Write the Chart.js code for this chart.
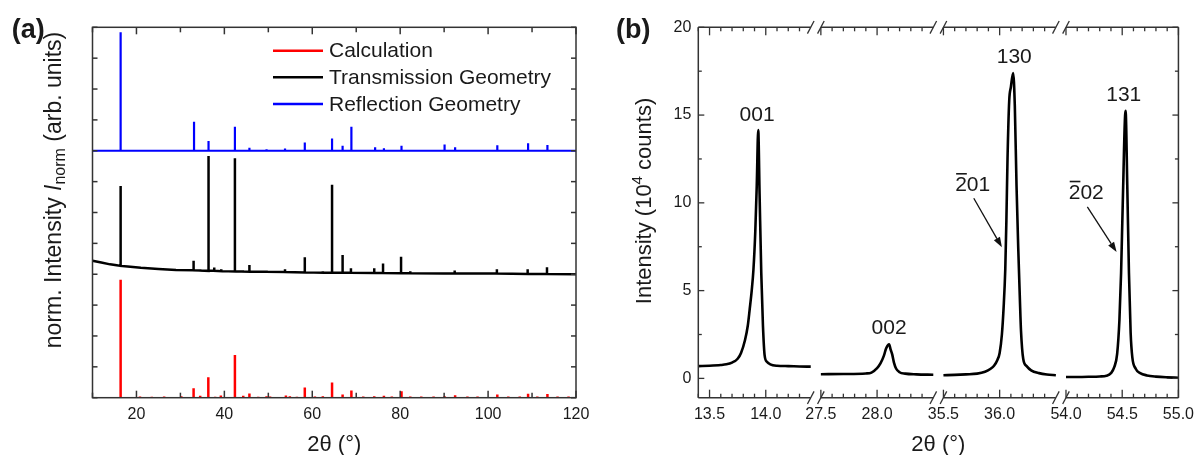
<!DOCTYPE html>
<html>
<head>
<meta charset="utf-8">
<script src="https://cdn.jsdelivr.net/npm/chart.js@4.4.1/dist/chart.umd.min.js"></script>
<style>
  html, body { margin: 0; padding: 0; background: #fff; }
  #wrap { position: relative; width: 1201px; height: 455px; }
  #cA { position: absolute; left: 0; top: 0; }
  #cB { position: absolute; left: 600px; top: 0; }
</style>
</head>
<body>
<div id="wrap">
  <canvas id="cA" width="600" height="455"></canvas>
  <canvas id="cB" width="601" height="455"></canvas>
</div>
<script>
const FONT = '"Liberation Sans", Arial, Helvetica, sans-serif';
const AXIS = '#333333';
const TXT = '#1a1a1a';

// ---------- panel (a): powder patterns ----------
const aXTicks = [10, 20, 30, 40, 50, 60, 70, 80, 90, 100, 110, 120];
const aXLabels = [20, 40, 60, 80, 100, 120];
const aYTicks = [0, 1, 2, 3, 4, 5, 6, 7, 8, 9, 10, 11, 12];

// calculated stick pattern (baseline 0)
const calcPos = [16.4, 20.8, 23.5, 26.3, 30.2, 33.0, 34.5, 36.35, 37.9, 39.2,
                 42.4, 44.3, 45.7, 47.7, 49.6, 50.4, 54.0, 54.9, 56.5, 58.3,
                 60.6, 62.4, 64.5, 66.9, 68.9, 71.6, 74.1, 76.3, 78.1, 80.3,
                 82.3, 84.8, 87.6, 90.1, 92.5, 95.3, 97.6, 102.1, 104.6, 107.2,
                 109.1, 111.2, 113.5, 115.8, 118.3];
const calcInt = [3.82, 0.04, 0.03, 0.04, 0.05, 0.31, 0.06, 0.66, 0.03, 0.07,
                 1.38, 0.06, 0.14, 0.03, 0.05, 0.04, 0.07, 0.05, 0.03, 0.33,
                 0.04, 0.05, 0.49, 0.10, 0.23, 0.04, 0.05, 0.06, 0.04, 0.21,
                 0.04, 0.04, 0.04, 0.05, 0.08, 0.04, 0.04, 0.10, 0.04, 0.04,
                 0.13, 0.04, 0.12, 0.04, 0.04];

// transmission geometry (offset ~4)
const transPos  = [16.4, 33.0, 34.5, 36.4, 37.7, 39.3, 42.4, 44.2, 45.7, 49.6, 53.8, 58.3,
                   62.4, 64.5, 66.9, 68.8, 74.1, 76.1, 80.2, 82.3, 92.4, 102.0, 109.0, 113.4];
const transFoot = [4.27, 4.13, 4.12, 4.11, 4.11, 4.10, 4.09, 4.09, 4.08, 4.08, 4.07, 4.06,
                   4.05, 4.05, 4.05, 4.05, 4.04, 4.04, 4.03, 4.03, 4.02, 4.02, 4.01, 4.01];
const transTop  = [6.86, 4.44, 4.16, 7.83, 4.22, 4.16, 7.76, 4.13, 4.30, 4.12, 4.16, 4.55,
                   4.10, 6.90, 4.62, 4.19, 4.19, 4.35, 4.57, 4.10, 4.12, 4.16, 4.16, 4.23];
const transBgPos = [10, 12, 14, 15.5, 18, 21, 25, 29, 90, 120];
const transBgVal = [4.44, 4.38, 4.32, 4.29, 4.25, 4.21, 4.17, 4.14, 4.02, 4.00];

// reflection geometry (offset 8)
const reflBase = 8.0;
const reflPos = [16.4, 33.1, 36.4, 42.4, 45.7, 49.6, 53.8, 58.3, 64.5, 66.9,
                 68.9, 74.3, 76.3, 80.3, 90.1, 92.5, 102.1, 109.1, 113.5];
const reflTop = [11.84, 8.94, 8.32, 8.78, 8.10, 8.05, 8.07, 8.27, 8.40, 8.16,
                 8.78, 8.11, 8.08, 8.16, 8.20, 8.11, 8.18, 8.24, 8.19];

// ---------- panel (b): single crystal reflections, broken axis ----------
const bSegStart = [13.4, 27.5, 35.5, 54.0];
const bSegEnd   = [14.4, 28.5, 36.5, 55.0];
const bYTicks = [0, 2.5, 5, 7.5, 10, 12.5, 15, 17.5, 20];

const seg1X = [13.40, 13.50, 13.60, 13.65, 13.70, 13.75, 13.78, 13.815, 13.84, 13.856, 13.875, 13.89, 13.907,
               13.92, 13.933, 13.945, 13.96, 13.975, 13.99, 14.01, 14.04, 14.10, 14.20, 14.30, 14.40];
const seg1Y = [0.70, 0.72, 0.76, 0.80, 0.90, 1.12, 1.45, 2.17, 3.00, 3.88, 5.00, 6.16, 8.40,
               11.0, 14.14, 10.5, 6.0, 3.0, 1.31, 0.95, 0.80, 0.72, 0.70, 0.68, 0.67];
const seg2X = [27.50, 27.70, 27.90, 27.95, 28.00, 28.03, 28.06, 28.08, 28.107, 28.12, 28.135, 28.15,
               28.17, 28.20, 28.25, 28.35, 28.50];
const seg2Y = [0.24, 0.25, 0.28, 0.33, 0.58, 0.85, 1.28, 1.70, 1.94, 1.65, 1.35, 0.90,
               0.55, 0.35, 0.27, 0.23, 0.21];
const seg3X = [35.50, 35.60, 35.70, 35.80, 35.87, 35.92, 35.95, 35.98, 36.00, 36.02, 36.035, 36.05, 36.06,
               36.07, 36.085, 36.10, 36.12, 36.135, 36.15, 36.165, 36.18, 36.19, 36.21, 36.24, 36.28,
               36.35, 36.42, 36.50];
const seg3Y = [0.18, 0.20, 0.23, 0.27, 0.38, 0.55, 0.72, 1.05, 1.45, 2.50, 4.00, 6.20, 9.00,
               12.5, 15.8, 16.6, 17.4, 15.5, 11.0, 7.5, 4.5, 2.7, 1.10, 0.70, 0.46,
               0.30, 0.22, 0.18];
const seg4X = [54.00, 54.10, 54.20, 54.30, 54.36, 54.40, 54.43, 54.455, 54.475, 54.49, 54.505, 54.53,
               54.545, 54.56, 54.575, 54.59, 54.62, 54.66, 54.72, 54.80, 54.90, 55.00];
const seg4Y = [0.08, 0.08, 0.09, 0.11, 0.15, 0.30, 0.65, 1.40, 3.30, 6.00, 10.0, 15.24,
               11.0, 6.0, 2.6, 1.2, 0.55, 0.30, 0.17, 0.10, 0.06, 0.04];

const annText = ['001', '002', '130', '131', '201', '202'];
const annX    = [13.923, 28.107, 36.13, 54.514, 35.76, 54.18];
const annY    = [15.0, 2.85, 18.28, 16.13, 11.0, 10.56];
const annBar  = [false, false, false, false, true, true];
const arrFromX = [35.77, 54.19], arrFromY = [10.26, 9.77];
const arrToX   = [36.02, 54.45], arrToY   = [7.47, 7.20];

// ---------- helpers ----------
const GAP = 0.09;
const segOffset = bSegStart.map((s, i) => {
  let o = 0;
  for (let k = 0; k < i; k++) o += (bSegEnd[k] - bSegStart[k]) + GAP;
  return o;
});
const bTotal = segOffset[3] + (bSegEnd[3] - bSegStart[3]);
function vx(x) {
  for (let i = 0; i < bSegStart.length; i++) {
    if (x >= bSegStart[i] - 1e-9 && x <= bSegEnd[i] + 1e-9) return segOffset[i] + (x - bSegStart[i]);
  }
  return null;
}

// tick list for broken axis: every 0.1 inside each segment
const bXTicks = [];
bSegStart.forEach((s, i) => {
  const n = Math.round((bSegEnd[i] - s) * 10);
  const last = i === bSegStart.length - 1 ? n : n - 1;
  for (let k = 0; k <= last; k++) {
    const x = Math.round((s + k * 0.1) * 10) / 10;
    const major = Math.abs(x * 2 - Math.round(x * 2)) < 1e-6;
    bXTicks.push({ x, v: vx(x), major });
  }
});

function line(ctx, x1, y1, x2, y2) {
  ctx.beginPath(); ctx.moveTo(x1, y1); ctx.lineTo(x2, y2); ctx.stroke();
}

// rotated title made of pieces {t, font, dy}
function rotTitle(ctx, cx, cy, parts) {
  ctx.save();
  ctx.translate(cx, cy);
  ctx.rotate(-Math.PI / 2);
  ctx.fillStyle = TXT;
  ctx.textBaseline = 'middle';
  ctx.textAlign = 'left';
  let w = 0;
  parts.forEach(p => { ctx.font = p.font; p.w = ctx.measureText(p.t).width; w += p.w; });
  let x = -w / 2;
  parts.forEach(p => { ctx.font = p.font; ctx.fillText(p.t, x, p.dy || 0); x += p.w; });
  ctx.restore();
}

// ---------- datasets for (a) ----------
const calcData = [];
calcPos.forEach((p, i) => {
  calcData.push({ x: p, y: 0 }, { x: p, y: calcInt[i] }, { x: p, y: null });
});

const transData = [];
transBgPos.forEach((p, i) => transData.push({ x: p, y: transBgVal[i], k: 0 }));
transPos.forEach((p, i) => {
  transData.push({ x: p, y: transFoot[i], k: 1 }, { x: p, y: transTop[i], k: 2 }, { x: p, y: transFoot[i], k: 3 });
});
transData.sort((a, b) => a.x - b.x || a.k - b.k);

const reflData = [{ x: 10, y: reflBase }];
reflPos.forEach((p, i) => {
  reflData.push({ x: p, y: reflBase }, { x: p, y: reflTop[i] }, { x: p, y: reflBase });
});
reflData.push({ x: 120, y: reflBase });

const frameA = {
  id: 'frameA',
  afterDatasetsDraw(chart) {
    const { ctx, chartArea: a, scales: { x, y } } = chart;
    ctx.save();
    ctx.strokeStyle = AXIS;
    ctx.lineWidth = 1.5;
    ctx.strokeRect(a.left, a.top, a.right - a.left, a.bottom - a.top);
    aXTicks.forEach(v => {
      const px = x.getPixelForValue(v);
      const len = aXLabels.includes(v) ? 7 : 5;
      line(ctx, px, a.bottom, px, a.bottom - len);
      line(ctx, px, a.top, px, a.top + len);
    });
    aYTicks.forEach(v => {
      const py = y.getPixelForValue(v);
      line(ctx, a.left, py, a.left + 5, py);
      line(ctx, a.right, py, a.right - 5, py);
    });

    // legend inside plot
    const ly = [50.7, 77.3, 104];
    [0, 1, 2].forEach(i => {
      const ds = chart.data.datasets[i];
      ctx.strokeStyle = ds.borderColor;
      ctx.lineWidth = 2.5;
      line(ctx, 273, ly[i], 323, ly[i]);
      ctx.fillStyle = TXT;
      ctx.font = '21px ' + FONT;
      ctx.textBaseline = 'middle';
      ctx.textAlign = 'left';
      ctx.fillText(ds.label, 329, ly[i] + 1);
    });

    // titles
    ctx.fillStyle = TXT;
    ctx.font = '22px ' + FONT;
    ctx.textAlign = 'center';
    ctx.textBaseline = 'middle';
    ctx.fillText('2\u03b8 (\u00b0)', (a.left + a.right) / 2, 445);
    rotTitle(ctx, 55, 190, [
      { t: 'norm. Intensity ', font: '23px ' + FONT },
      { t: 'I', font: 'italic 23px ' + FONT },
      { t: 'norm', font: '16px ' + FONT, dy: 6 },
      { t: ' (arb. units)', font: '23px ' + FONT }
    ]);
    ctx.font = 'bold 27px ' + FONT;
    ctx.textAlign = 'center';
    ctx.fillText('(a)', 28.3, 31);
    ctx.restore();
  }
};

new Chart(document.getElementById('cA'), {
  type: 'line',
  data: {
    datasets: [
      { label: 'Calculation', data: calcData, borderColor: '#ff0000', borderWidth: 2.5, spanGaps: false },
      { label: 'Transmission Geometry', data: transData, borderColor: '#000000', borderWidth: 2.5 },
      { label: 'Reflection Geometry', data: reflData, borderColor: '#0000ff', borderWidth: 2.2 }
    ]
  },
  options: {
    responsive: false,
    animation: false,
    parsing: true,
    elements: { point: { radius: 0 }, line: { tension: 0, borderJoinStyle: 'miter' } },
    layout: { padding: { top: 27.3, right: 24, bottom: 0, left: 0 } },
    plugins: { legend: { display: false }, tooltip: { enabled: false } },
    scales: {
      x: {
        type: 'linear', min: 10, max: 120,
        afterBuildTicks: s => { s.ticks = aXTicks.map(v => ({ value: v })); },
        ticks: {
          callback: v => (aXLabels.includes(v) ? String(v) : ''),
          font: { family: FONT, size: 16 }, color: TXT,
          maxRotation: 0, autoSkip: false, padding: 7
        },
        grid: { display: false, drawTicks: false },
        border: { display: false },
        afterFit: s => { s.height = 57.3; }
      },
      y: {
        type: 'linear', min: 0, max: 12,
        ticks: { display: false },
        grid: { display: false, drawTicks: false },
        border: { display: false },
        afterFit: s => { s.width = 92.5; }
      }
    }
  },
  plugins: [frameA]
});

// ---------- chart (b) ----------
const segXs = [seg1X, seg2X, seg3X, seg4X];
const segYs = [seg1Y, seg2Y, seg3Y, seg4Y];

const frameB = {
  id: 'frameB',
  afterDatasetsDraw(chart) {
    const { ctx, chartArea: a, scales: { x, y } } = chart;
    ctx.save();
    ctx.strokeStyle = AXIS;
    ctx.lineWidth = 1.5;
    line(ctx, a.left, a.top, a.left, a.bottom);
    line(ctx, a.right, a.top, a.right, a.bottom);
    bSegStart.forEach((s, i) => {
      const p1 = x.getPixelForValue(vx(s));
      const p2 = x.getPixelForValue(vx(bSegEnd[i]));
      line(ctx, p1, a.top, p2, a.top);
      line(ctx, p1, a.bottom, p2, a.bottom);
      // break marks
      const marks = [];
      if (i > 0) marks.push(p1);
      if (i < bSegStart.length - 1) marks.push(p2);
      ctx.lineWidth = 1.3;
      marks.forEach(m => {
        line(ctx, m - 3.3, a.top + 6.3, m + 3.3, a.top - 6.3);
        line(ctx, m - 3.3, a.bottom + 6.3, m + 3.3, a.bottom - 6.3);
      });
      ctx.lineWidth = 1.5;
    });
    ctx.lineWidth = 1.3;
    bXTicks.forEach(t => {
      const px = x.getPixelForValue(t.v);
      const len = t.major ? 8 : 4;
      line(ctx, px, a.bottom, px, a.bottom - len);
      line(ctx, px, a.top, px, a.top + len);
    });
    bYTicks.forEach(v => {
      const py = y.getPixelForValue(v);
      const len = v % 5 === 0 ? 6 : 3.5;
      line(ctx, a.left, py, a.left + len, py);
      line(ctx, a.right, py, a.right - len, py);
    });

    // peak labels
    ctx.fillStyle = TXT;
    ctx.font = '21px ' + FONT;
    ctx.textAlign = 'center';
    ctx.textBaseline = 'middle';
    annText.forEach((t, i) => {
      const px = x.getPixelForValue(vx(annX[i]));
      const py = y.getPixelForValue(annY[i]);
      ctx.fillText(t, px, py);
      if (annBar[i]) {
        const w = ctx.measureText(t).width;
        const w2 = ctx.measureText(t[0]).width;
        ctx.strokeStyle = TXT;
        ctx.lineWidth = 1.6;
        line(ctx, px - w / 2 + 1, py - 11.5, px - w / 2 + w2, py - 11.5);
      }
    });
    // arrows
    ctx.strokeStyle = '#111';
    ctx.fillStyle = '#111';
    ctx.lineWidth = 1.3;
    arrFromX.forEach((fx, i) => {
      const x1 = x.getPixelForValue(vx(fx)), y1 = y.getPixelForValue(arrFromY[i]);
      const x2 = x.getPixelForValue(vx(arrToX[i])), y2 = y.getPixelForValue(arrToY[i]);
      const ang = Math.atan2(y2 - y1, x2 - x1);
      const hl = 10, hw = 3.5;
      const bx = x2 - hl * Math.cos(ang), by = y2 - hl * Math.sin(ang);
      line(ctx, x1, y1, bx, by);
      ctx.beginPath();
      ctx.moveTo(x2, y2);
      ctx.lineTo(bx + hw * Math.sin(ang), by - hw * Math.cos(ang));
      ctx.lineTo(bx - hw * Math.sin(ang), by + hw * Math.cos(ang));
      ctx.closePath();
      ctx.fill();
    });

    // titles
    ctx.fillStyle = TXT;
    ctx.font = '22px ' + FONT;
    ctx.textAlign = 'center';
    ctx.textBaseline = 'middle';
    ctx.fillText('2\u03b8 (\u00b0)', (a.left + a.right) / 2, 445);
    rotTitle(ctx, 45, 201, [
      { t: 'Intensity (10', font: '22px ' + FONT },
      { t: '4', font: '15px ' + FONT, dy: -7 },
      { t: ' counts)', font: '22px ' + FONT }
    ]);
    ctx.font = 'bold 27px ' + FONT;
    ctx.textAlign = 'center';
    ctx.fillText('(b)', 33.3, 31);
    ctx.restore();
  }
};

new Chart(document.getElementById('cB'), {
  type: 'line',
  data: {
    datasets: segXs.map((xs, i) => ({
      label: 'segment ' + (i + 1),
      data: xs.map((xv, k) => ({ x: vx(xv), y: segYs[i][k] })),
      borderColor: '#000000',
      borderWidth: 2.6,
      cubicInterpolationMode: 'monotone'
    }))
  },
  options: {
    responsive: false,
    animation: false,
    elements: { point: { radius: 0 }, line: { tension: 0.4 } },
    layout: { padding: { top: 27.3, right: 19.3, bottom: 0, left: 0 } },
    plugins: { legend: { display: false }, tooltip: { enabled: false } },
    scales: {
      x: {
        type: 'linear', min: 0, max: bTotal,
        afterBuildTicks: s => { s.ticks = bXTicks.map(t => ({ value: t.v })); },
        ticks: {
          callback: (v, i) => (bXTicks[i] && bXTicks[i].major ? bXTicks[i].x.toFixed(1) : ''),
          font: { family: FONT, size: 16 }, color: TXT,
          maxRotation: 0, autoSkip: false, padding: 7
        },
        grid: { display: false, drawTicks: false },
        border: { display: false },
        afterFit: s => { s.height = 57.3; }
      },
      y: {
        type: 'linear', min: -1.1, max: 20,
        afterBuildTicks: s => { s.ticks = bYTicks.map(v => ({ value: v })); },
        ticks: {
          callback: v => (v % 5 === 0 ? String(v) : ''),
          font: { family: FONT, size: 16 }, color: TXT, padding: 7
        },
        grid: { display: false, drawTicks: false },
        border: { display: false },
        afterFit: s => { s.width = 98.3; }
      }
    }
  },
  plugins: [frameB]
});
</script>
</body>
</html>
